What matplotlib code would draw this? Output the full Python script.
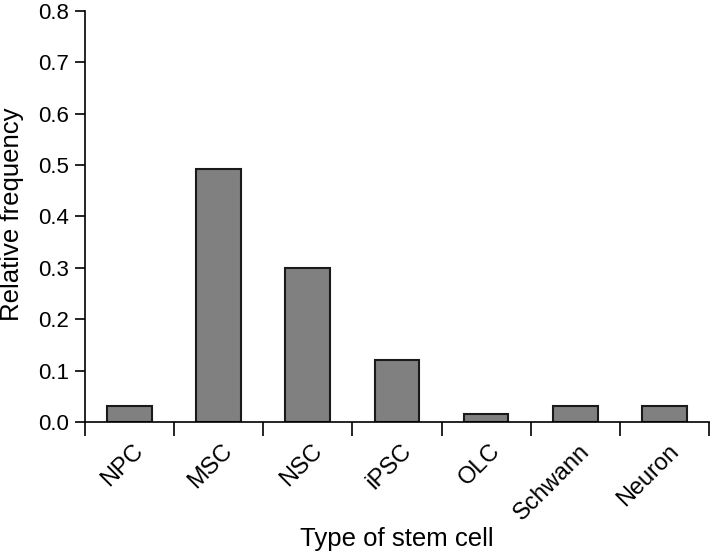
import matplotlib
matplotlib.use("Agg")
import matplotlib.pyplot as plt
import matplotlib.transforms as mtransforms
import numpy as np

categories = ["NPC", "MSC", "NSC", "iPSC", "OLC", "Schwann", "Neuron"]
values = [0.032, 0.492, 0.299, 0.121, 0.015, 0.032, 0.032]
yticks = [0.0, 0.1, 0.2, 0.3, 0.4, 0.5, 0.6, 0.7, 0.8]

plt.rcParams['font.family'] = ['Liberation Sans', 'DejaVu Sans']

fig = plt.figure(figsize=(7.12, 5.53), dpi=100)
ax = fig.add_axes([0.119, 0.237, 0.877, 0.743])
x = np.arange(len(categories))
ax.bar(x, values, width=0.5, color="#808080", edgecolor="#1a1a1a", linewidth=1.5)
ax.set_xlim(-0.5, len(categories) - 0.5)
ax.set_ylim(0, 0.8)
ax.set_yticks(yticks)
ax.set_yticklabels([f"{v:.1f}" for v in yticks], fontsize=16)
ax.set_xticks(x)
ax.set_xticklabels(categories, rotation=45, ha="right", rotation_mode="anchor", fontsize=17)
ax.tick_params(axis="x", length=0, pad=13)
offset = mtransforms.ScaledTranslation(0.03, 0, fig.dpi_scale_trans)
for lab in ax.get_xticklabels():
    lab.set_transform(lab.get_transform() + offset)
ax.set_xticks(np.arange(len(categories) + 1) - 0.5, minor=True)
ax.tick_params(axis="x", which="minor", length=10, width=1.2, direction="out")
ax.tick_params(axis="y", length=7, width=1.2, direction="out", pad=4)
for s in ["top", "right"]:
    ax.spines[s].set_visible(False)
for s in ["left", "bottom"]:
    ax.spines[s].set_linewidth(1.2)
ax.set_xlabel("Type of stem cell", fontsize=18.5, va="center")
ax.xaxis.set_label_coords(0.5, -0.285)
ax.set_ylabel("Relative frequency", fontsize=18.5, va="center")
ax.yaxis.set_label_coords(-0.117, 0.506)
fig.savefig("out.png", dpi=100)
